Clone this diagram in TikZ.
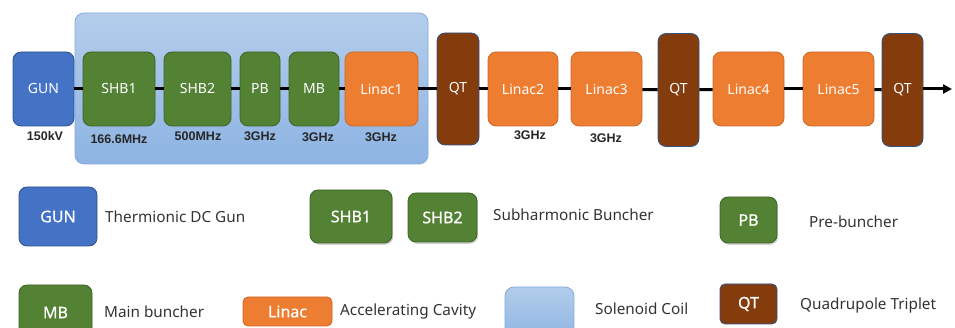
\documentclass[tikz,border=0pt]{standalone}
\usepackage{fontspec}
\setmainfont{Noto Sans}
\newfontfamily\valuefont{Liberation Sans}
\newfontfamily\boxfont[FakeBold=0.6]{Noto Sans}
\usetikzlibrary{arrows.meta,shadows}

\definecolor{gunfill}{HTML}{4472C4}
\definecolor{gunedge}{HTML}{2F528F}
\definecolor{bunchfill}{HTML}{548235}
\definecolor{bunchedge}{HTML}{3D6326}
\definecolor{linacfill}{HTML}{ED7D31}
\definecolor{linacedge}{HTML}{C8682A}
\definecolor{qtfill}{HTML}{843C0C}
\definecolor{qtedge}{HTML}{2F528F}
\definecolor{soltop}{HTML}{B3CDEB}
\definecolor{solbottom}{HTML}{8EB4E3}
\definecolor{soledge}{HTML}{86AADA}
\definecolor{legendtext}{HTML}{333333}

\begin{document}
\begin{tikzpicture}[x=1pt, y=-1pt,
  box/.style={rounded corners=8pt, draw, line width=0.8pt, text=white,
    font=\fontsize{14}{16}\selectfont, inner sep=0pt, align=center},
  keybox/.style={font=\boxfont\fontsize{16}{18}\selectfont},
  gunbox/.style={box, fill=gunfill, draw=gunedge},
  bunchbox/.style={box, fill=bunchfill, draw=bunchedge},
  linacbox/.style={box, fill=linacfill, draw=linacedge},
  qtbox/.style={box, fill=qtfill, draw=qtedge},
  solbox/.style={rounded corners=9pt, draw=soledge, line width=0.8pt,
    top color=soltop, bottom color=solbottom},
  shadowed/.style={drop shadow={opacity=0.35, shadow xshift=1.2pt, shadow yshift=-1.8pt}},
  freq/.style={font=\valuefont\bfseries\fontsize{12.5}{14}\selectfont, text=black!85, inner sep=0pt},
  legend/.style={font=\fontsize{15.3}{17}\selectfont, text=legendtext, anchor=west, inner sep=0pt},
  beam/.style={line width=3pt, black},
]
\useasboundingbox (0,0) rectangle (955,328);
\clip (0,0) rectangle (955,328);

% solenoid coil enclosing the injector section
\node[solbox, minimum width=353pt, minimum height=151pt, inner sep=0pt] (sol) at (251.5,88.5) {};

% beamline elements
\node[gunbox, minimum width=61pt, minimum height=74pt] (gun) at (43.5,89) {GUN};
\node[bunchbox, minimum width=72pt, minimum height=74pt] (shb1) at (119,89) {SHB1};
\node[bunchbox, minimum width=67pt, minimum height=74pt] (shb2) at (197.5,89) {SHB2};
\node[bunchbox, minimum width=40pt, minimum height=74pt] (pb) at (260,89) {PB};
\node[bunchbox, minimum width=50pt, minimum height=74pt] (mb) at (314,89) {MB};
\node[linacbox, minimum width=73pt, minimum height=74pt] (l1) at (381.5,89) {Linac1};
\node[qtbox, minimum width=42pt, minimum height=112pt] (qt1) at (458,89) {QT};
\node[linacbox, minimum width=70pt, minimum height=74pt] (l2) at (523,89) {Linac2};
\node[linacbox, minimum width=71pt, minimum height=74pt] (l3) at (606.5,89) {Linac3};
\node[qtbox, minimum width=41pt, minimum height=113pt] (qt2) at (678.5,90) {QT};
\node[linacbox, minimum width=71pt, minimum height=74pt] (l4) at (748.5,89) {Linac4};
\node[linacbox, minimum width=71pt, minimum height=74pt] (l5) at (838.5,89) {Linac5};
\node[qtbox, minimum width=41pt, minimum height=113pt] (qt3) at (902.5,90) {QT};
\coordinate (beamend) at (952,89);

% beam line
\draw[beam] (gun) -- (shb1);
\draw[beam] (shb1) -- (shb2);
\draw[beam] (shb2) -- (pb);
\draw[beam] (pb) -- (mb);
\draw[beam] (mb) -- (l1);
\draw[beam] (l1) -- (qt1);
\draw[beam] (qt1) -- (l2);
\draw[beam] (l2) -- (l3);
\draw[beam] (l3) -- (qt2);
\draw[beam] (qt2) -- (l4);
\draw[beam] (l4) -- (l5);
\draw[beam] (l5) -- (qt3);
\draw[beam, -{Triangle[length=9pt, width=9pt]}] (qt3.east |- beamend) -- (beamend);

% operating parameters
\node[freq] (v-gun) at (45,136) {150kV};
\node[freq] (v-shb1) at (119,139) {166.6MHz};
\node[freq] (v-shb2) at (198,136) {500MHz};
\node[freq] (v-pb) at (260,136) {3GHz};
\node[freq] (v-mb) at (318,137) {3GHz};
\node[freq] (v-l1) at (381,137) {3GHz};
\node[freq] (v-l2) at (530,135) {3GHz};
\node[freq] (v-l3) at (606,138) {3GHz};

% legend, first row
\node[gunbox, keybox, minimum width=78pt, minimum height=59pt] (k-gun) at (58,216.5) {GUN};
\node[legend] (t-gun) at (105,217) {Thermionic DC Gun};
\node[bunchbox, keybox, shadowed, minimum width=82pt, minimum height=53pt] (k-shb1) at (351,216.5) {SHB1};
\node[bunchbox, keybox, shadowed, minimum width=69pt, minimum height=49pt] (k-shb2) at (442.5,217.5) {SHB2};
\node[legend] (t-shb) at (493,215) {Subharmonic Buncher};
\node[bunchbox, keybox, shadowed, minimum width=57pt, minimum height=46pt] (k-pb) at (748.5,220) {PB};
\node[legend] (t-pb) at (809,222) {Pre-buncher};

% legend, second row
\node[bunchbox, keybox, minimum width=73pt, minimum height=55pt] (k-mb) at (55.5,312.5) {MB};
\node[legend] (t-mb) at (104,312) {Main buncher};
\node[linacbox, keybox, rounded corners=5pt, minimum width=89pt, minimum height=29pt] (k-linac) at (287.5,311.5) {Linac};
\node[legend] (t-linac) at (340,312) {Accelerating Cavity};
\node[solbox, minimum width=69pt, minimum height=52pt] (k-sol) at (539.5,313) {};
\node[legend] (t-sol) at (595,309) {Solenoid Coil};
\node[qtbox, keybox, rounded corners=5pt, minimum width=57pt, minimum height=40pt] (k-qt) at (748.5,304) {QT};
\node[legend] (t-qt) at (800,306) {Quadrupole Triplet};
\end{tikzpicture}
\end{document}
